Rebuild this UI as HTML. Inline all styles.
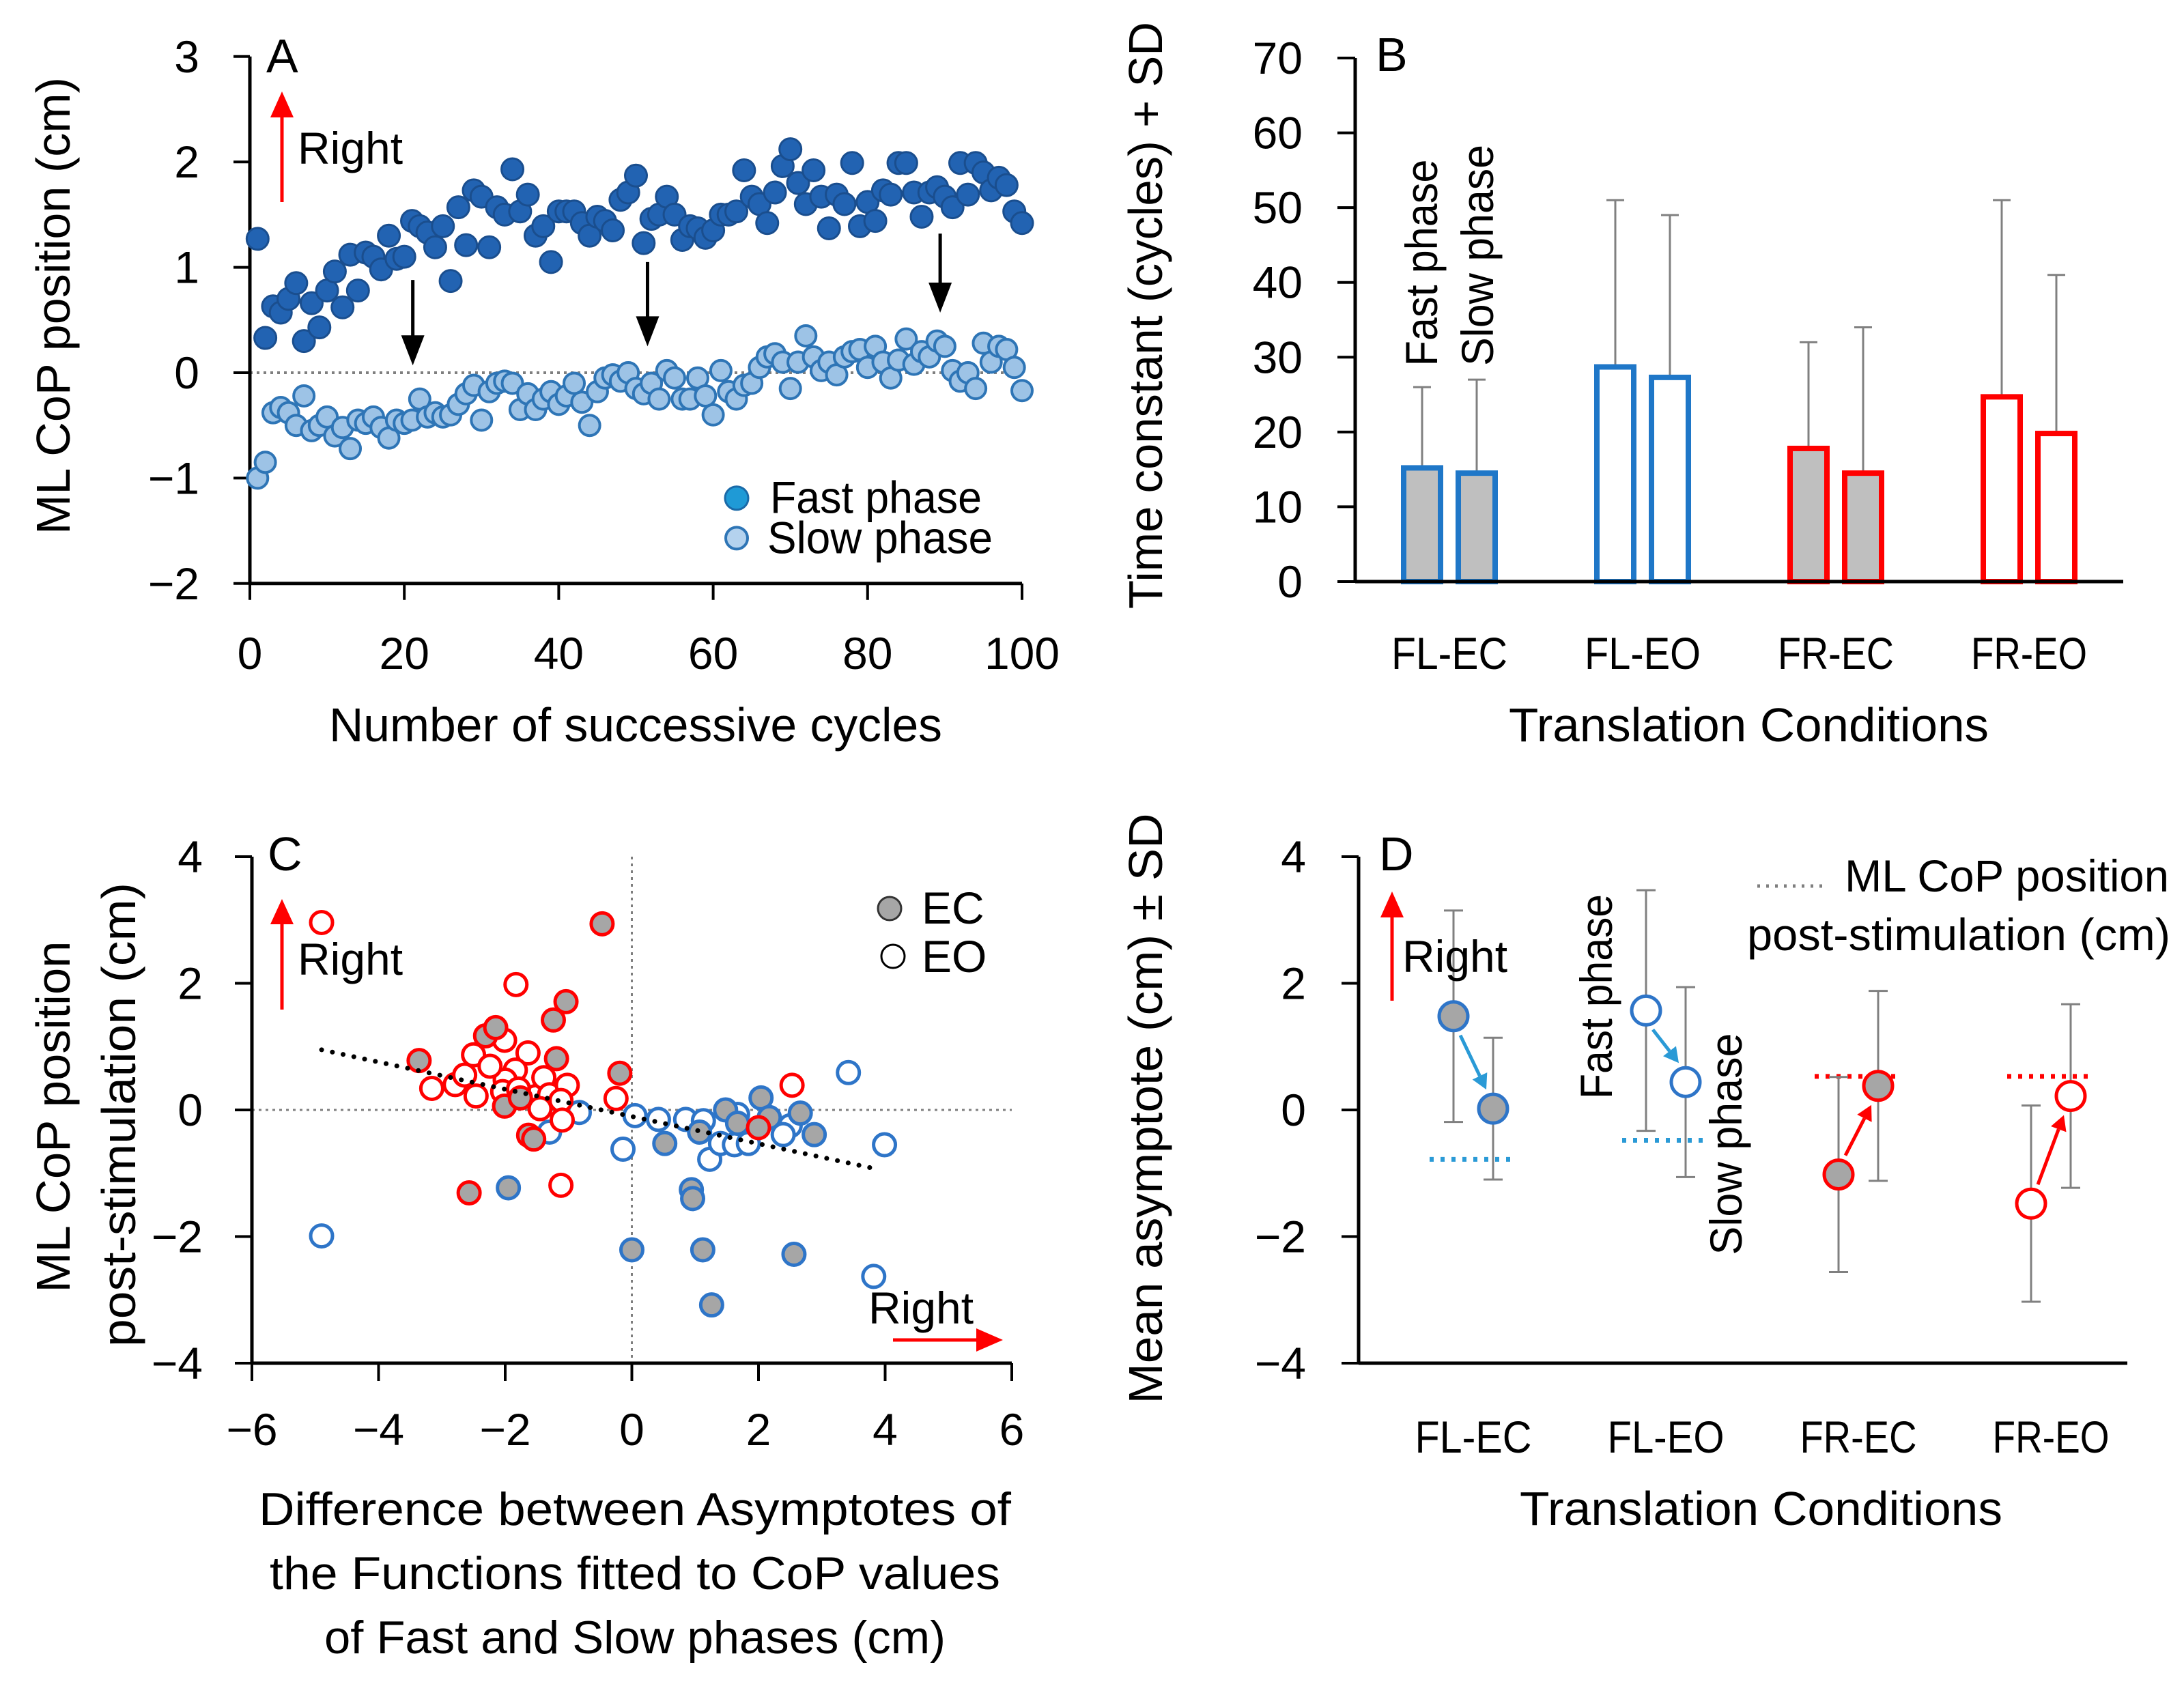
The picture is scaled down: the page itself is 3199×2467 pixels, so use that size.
<!DOCTYPE html>
<html><head><meta charset="utf-8">
<style>
html,body{margin:0;padding:0;background:#fff;}
svg{display:block;font-family:"Liberation Sans",sans-serif;}
text{fill:#000;}
</style></head>
<body>
<svg id="fig" xmlns="http://www.w3.org/2000/svg" width="3199" height="2467" viewBox="0 0 3199 2467">
<rect width="3199" height="2467" fill="#fff"/>
</svg>
<script>
// ---------- Panel A data ----------
const aFast = [1.27,0.33,0.63,0.57,0.7,0.85,0.3,0.66,0.43,0.78,0.96,0.62,1.12,0.78,1.14,1.1,0.98,1.3,1.08,1.1,1.44,1.39,1.33,1.19,1.39,0.87,1.57,1.21,1.73,1.67,1.19,1.57,1.5,1.93,1.53,1.69,1.3,1.39,1.05,1.53,1.53,1.53,1.42,1.3,1.48,1.44,1.35,1.64,1.71,1.87,1.23,1.46,1.5,1.67,1.5,1.26,1.39,1.37,1.28,1.35,1.5,1.5,1.53,1.92,1.67,1.6,1.42,1.71,1.96,2.12,1.8,1.6,1.92,1.67,1.37,1.69,1.6,1.99,1.39,1.62,1.44,1.73,1.69,1.99,1.99,1.71,1.48,1.71,1.76,1.67,1.57,1.99,1.69,1.99,1.9,1.73,1.85,1.78,1.53,1.42];
const aSlow = [-1.0,-0.85,-0.38,-0.33,-0.38,-0.5,-0.22,-0.55,-0.5,-0.42,-0.6,-0.52,-0.72,-0.45,-0.48,-0.42,-0.52,-0.62,-0.45,-0.48,-0.45,-0.25,-0.42,-0.38,-0.42,-0.4,-0.3,-0.2,-0.12,-0.45,-0.18,-0.1,-0.08,-0.1,-0.35,-0.2,-0.35,-0.25,-0.18,-0.3,-0.22,-0.1,-0.28,-0.5,-0.18,-0.05,-0.02,-0.08,0.0,-0.15,-0.2,-0.1,-0.25,0.02,-0.05,-0.25,-0.25,-0.05,-0.22,-0.4,0.02,-0.18,-0.25,-0.12,-0.1,0.05,0.15,0.18,0.1,-0.15,0.1,0.35,0.15,0.02,0.1,-0.02,0.15,0.2,0.22,0.05,0.25,0.1,-0.05,0.12,0.32,0.08,0.2,0.15,0.3,0.25,0.02,-0.08,0.0,-0.15,0.28,0.1,0.25,0.22,0.05,-0.17];
const aXTicks = [0,20,40,60,80,100];
const aYTicks = [3,2,1,0,-1,-2];
// ---------- Panel B data ----------
const bCategories = ["FL-EC","FL-EO","FR-EC","FR-EO"];
const bFastMean = [15.2,28.7,17.8,24.7];
const bSlowMean = [14.5,27.3,14.5,19.8];
const bFastTop = [26,51,32,51];
const bSlowTop = [27,49,34,41];
const bYTicks = [0,10,20,30,40,50,60,70];
// ---------- Panel C data ----------
const cRedEOx = [-4.9,-1.83,-3.16,-2.79,-2.64,-2.5,-2.46,-2.01,-1.64,-1.84,-2.0,-2.04,-1.52,-1.39,-1.3,-1.02,-1.12,-1.1,-1.45,-1.12,-0.25,2.53,-2.24,-1.79];
const cRedEOy = [2.96,1.98,0.34,0.4,0.55,0.87,0.22,1.1,0.9,0.63,0.47,0.29,0.21,0.51,0.24,0.39,0.15,-0.16,0.02,-1.19,0.18,0.39,0.69,0.33];
const cRedECx = [-3.36,-2.31,-2.15,-1.24,-1.04,-1.19,-0.47,-0.19,-1.63,-1.55,-2.57,-2.01,2.0,-1.76];
const cRedECy = [0.78,1.17,1.3,1.42,1.71,0.81,2.94,0.58,-0.4,-0.46,-1.31,0.06,-0.28,0.19];
const cBlueECx = [-1.95,0,1.12,1.26,2.56,0.94,0.96,0.52,1.07,1.48,2.04,2.17,2.66,2.88,1.67];
const cBlueECy = [-1.23,-2.21,-2.21,-3.08,-2.28,-1.26,-1.4,-0.53,-0.35,0,0.19,-0.12,-0.05,-0.39,-0.21];
const cBlueEOx = [-4.9,3.42,3.99,3.82,-0.14,0.05,0.42,0.85,1.13,1.23,1.4,1.62,1.84,2.5,2.39,-1.3,-0.83,1.67];
const cBlueEOy = [-1.99,0.59,-0.55,-2.63,-0.62,-0.09,-0.15,-0.15,-0.17,-0.78,-0.53,-0.55,-0.53,-0.25,-0.39,-0.35,-0.04,-0.07];
const cTrendX = [-4.9,3.8];
const cTrendY = [0.95,-0.92];
const cXTicks = [-6,-4,-2,0,2,4,6];
const cYTicks = [4,2,0,-2,-4];
// ---------- Panel D data ----------
const dCategories = ["FL-EC","FL-EO","FR-EC","FR-EO"];
const dFastMean = [1.48,1.57,-1.02,-1.48];
const dFastSD = [1.67,1.9,1.54,1.55];
const dSlowMean = [0.02,0.44,0.38,0.22];
const dSlowSD = [1.12,1.5,1.5,1.45];
const dPost = [-0.78,-0.48,0.53,0.53];
const dYTicks = [4,2,0,-2,-4];

const NS="http://www.w3.org/2000/svg";
const svg=document.getElementById('fig');
function mk(tag, attrs, parent){
  const e=document.createElementNS(NS,tag);
  for(const k in attrs) e.setAttribute(k,attrs[k]);
  (parent||svg).appendChild(e);
  return e;
}
function txt(str, attrs, parent){
  const e=mk('text',attrs,parent); e.textContent=str; return e;
}
function grp(name){
  const g=mk('g',{});
  
  
  return g;
}
const FS=66;

// ================= PANEL A =================
const ax=v=>366+v*11.31;
const ay=v=>546-v*154.4;
const gA=grp('panel-a');
let e;
e=mk('line',{x1:ax(0),y1:ay(0),x2:ax(100),y2:ay(0),stroke:'#7f7f7f','stroke-width':4,'stroke-dasharray':'4 6'},gA);


e=mk('line',{x1:ax(0),y1:ay(3),x2:ax(0),y2:ay(-2),stroke:'#000','stroke-width':5},gA);


e=mk('line',{x1:ax(0),y1:ay(-2),x2:ax(100),y2:ay(-2),stroke:'#000','stroke-width':5},gA);


aYTicks.forEach(t=>{
  mk('line',{x1:ax(0)-24,y1:ay(t),x2:ax(0),y2:ay(t),stroke:'#000','stroke-width':4},gA);
  e=txt(String(t).replace('-','\u2212'),{x:292,y:ay(t)+23,'font-size':FS,'text-anchor':'end'},gA);
  
  
});
aXTicks.forEach(t=>{
  mk('line',{x1:ax(t),y1:ay(-2),x2:ax(t),y2:ay(-2)+24,stroke:'#000','stroke-width':4},gA);
  e=txt(String(t),{x:ax(t),y:980,'font-size':FS,'text-anchor':'middle'},gA);
  
  
});
aSlow.forEach((v,i)=>{
  e=mk('circle',{cx:ax(i+1),cy:ay(v),r:15,fill:'#9dc3e6',stroke:'#2e75b6','stroke-width':4},gA);
  
  
});
aFast.forEach((v,i)=>{
  e=mk('circle',{cx:ax(i+1),cy:ay(v),r:16,fill:'#2263b2',stroke:'#1a4e8e','stroke-width':3},gA);
  
  
});
// black arrows
[[21.1,0.88,0.07],[51.5,1.05,0.25],[89.4,1.32,0.57]].forEach(a=>{
  const x=ax(a[0]),y1=ay(a[1]),y2=ay(a[2]);
  e=mk('path',{d:`M${x} ${y1} L${x} ${y2-40}`,stroke:'#000','stroke-width':5},gA);
  
  
  mk('path',{d:`M${x-17} ${y2-44} L${x+17} ${y2-44} L${x} ${y2} Z`,fill:'#000'},gA);
});
mk('path',{d:`M413 296 L413 170`,stroke:'#f00','stroke-width':5},gA);
e=mk('path',{d:`M396 172 L430 172 L413 134 Z`,fill:'#f00'},gA);


e=txt('Right',{x:436,y:240,'font-size':FS},gA);


e=txt('A',{x:390,y:106,'font-size':70},gA);


e=mk('circle',{cx:1079,cy:ay(-1.19),r:17,fill:'#1f9ad6',stroke:'#1a6aa8','stroke-width':3},gA);


e=txt('Fast phase',{x:1128,y:ay(-1.19)+22,'font-size':FS,textLength:310,lengthAdjust:'spacingAndGlyphs'},gA);


e=mk('circle',{cx:1079,cy:ay(-1.57),r:16,fill:'#b4d2ee',stroke:'#2e75b6','stroke-width':4},gA);


e=txt('Slow phase',{x:1124,y:ay(-1.57)+22,'font-size':FS,textLength:330,lengthAdjust:'spacingAndGlyphs'},gA);


e=txt('Number of successive cycles',{x:482,y:1086,'font-size':70,textLength:898,lengthAdjust:'spacingAndGlyphs'},gA);


e=txt('ML CoP position (cm)',{x:0,y:0,'font-size':70,'text-anchor':'middle',textLength:670,lengthAdjust:'spacingAndGlyphs',transform:'translate(102,448) rotate(-90)'},gA);



// ================= PANEL B =================
const by=v=>852-v*10.957;
const bcx=i=>2123+i*283;
const gB=grp('panel-b');
e=mk('line',{x1:1985,y1:by(70),x2:1985,y2:by(0),stroke:'#000','stroke-width':5},gB);


bYTicks.forEach(t=>{
  mk('line',{x1:1959,y1:by(t),x2:1985,y2:by(t),stroke:'#000','stroke-width':4},gB);
  e=txt(String(t),{x:1908,y:by(t)+23,'font-size':FS,'text-anchor':'end'},gB);
  
  
});
bCategories.forEach((c,i)=>{
  const col=i<2?'#1f77c8':'#ff0000';
  const fill=(i%2===0)?'#bfbfbf':'#ffffff';
  [[bFastMean[i],bFastTop[i],-40,'fast'],[bSlowMean[i],bSlowTop[i],40,'slow']].forEach(s=>{
    const x=bcx(i)+s[2];
    e=mk('line',{x1:x,y1:by(s[0]),x2:x,y2:by(s[1]),stroke:'#808080','stroke-width':3},gB);
    
    
    mk('line',{x1:x-13,y1:by(s[1]),x2:x+13,y2:by(s[1]),stroke:'#808080','stroke-width':3},gB);
    e=mk('rect',{x:x-27,y:by(s[0]),width:54,height:by(0)-by(s[0]),fill:fill,stroke:col,'stroke-width':8},gB);
    
    
  });
  e=txt(c,{x:bcx(i),y:980,'font-size':FS,'text-anchor':'middle',textLength:170,lengthAdjust:'spacingAndGlyphs'},gB);
  
  
});
e=mk('line',{x1:1985,y1:by(0),x2:3110,y2:by(0),stroke:'#000','stroke-width':5},gB);


e=txt('Fast phase',{x:0,y:0,'font-size':FS,'text-anchor':'middle',textLength:303,lengthAdjust:'spacingAndGlyphs',transform:'translate(2105,385) rotate(-90)'},gB);


e=txt('Slow phase',{x:0,y:0,'font-size':FS,'text-anchor':'middle',textLength:324,lengthAdjust:'spacingAndGlyphs',transform:'translate(2187,374) rotate(-90)'},gB);


e=txt('B',{x:2015,y:104,'font-size':70},gB);


e=txt('Translation Conditions',{x:2210,y:1086,'font-size':70,textLength:703,lengthAdjust:'spacingAndGlyphs'},gB);


e=txt('Time constant (cycles) + SD',{x:0,y:0,'font-size':70,'text-anchor':'middle',textLength:860,lengthAdjust:'spacingAndGlyphs',transform:'translate(1702,462) rotate(-90)'},gB);



// ================= PANEL C =================
const cx=v=>925.5+v*92.75;
const cy=v=>1626-v*92.75;
const gC=grp('panel-c');
e=mk('line',{x1:cx(-6),y1:cy(0),x2:cx(6),y2:cy(0),stroke:'#7f7f7f','stroke-width':3,'stroke-dasharray':'4 6'},gC);


e=mk('line',{x1:cx(0),y1:cy(4),x2:cx(0),y2:cy(-4),stroke:'#7f7f7f','stroke-width':3,'stroke-dasharray':'4 6'},gC);


e=mk('line',{x1:cx(-6),y1:cy(4),x2:cx(-6),y2:cy(-4),stroke:'#000','stroke-width':5},gC);


e=mk('line',{x1:cx(-6),y1:cy(-4),x2:cx(6),y2:cy(-4),stroke:'#000','stroke-width':5},gC);


cYTicks.forEach(t=>{
  mk('line',{x1:cx(-6)-25,y1:cy(t),x2:cx(-6),y2:cy(t),stroke:'#000','stroke-width':4},gC);
  e=txt(String(t).replace('-','\u2212'),{x:297,y:cy(t)+23,'font-size':FS,'text-anchor':'end'},gC);
  
  
});
cXTicks.forEach(t=>{
  mk('line',{x1:cx(t),y1:cy(-4),x2:cx(t),y2:cy(-4)+26,stroke:'#000','stroke-width':4},gC);
  e=txt(String(t).replace('-','\u2212'),{x:cx(t),y:2117,'font-size':FS,'text-anchor':'middle'},gC);
  
  
});
function cpts(xs,ys,fill,stroke,name){
  xs.forEach((v,i)=>{
    const c=mk('circle',{cx:cx(v),cy:cy(ys[i]),r:16,fill:fill,stroke:stroke,'stroke-width':5},gC);
    
    
  });
}
cpts(cBlueEOx,cBlueEOy,'#fff','#2e75c8','fl-eo-point');
cpts(cBlueECx,cBlueECy,'#a6a6a6','#2e75c8','fl-ec-point');
cpts(cRedEOx,cRedEOy,'#fff','#ff0000','fr-eo-point');
cpts(cRedECx,cRedECy,'#a6a6a6','#ff0000','fr-ec-point');
e=mk('line',{x1:cx(cTrendX[0]),y1:cy(cTrendY[0]),x2:cx(cTrendX[1]),y2:cy(cTrendY[1]),stroke:'#000','stroke-width':7,'stroke-dasharray':'0.1 16','stroke-linecap':'round'},gC);


mk('path',{d:'M413 1479 L413 1352',stroke:'#f00','stroke-width':5},gC);
e=mk('path',{d:'M396 1354 L430 1354 L413 1317 Z',fill:'#f00'},gC);


e=txt('Right',{x:436,y:1428,'font-size':FS},gC);


mk('path',{d:'M1308 1963 L1432 1963',stroke:'#f00','stroke-width':5},gC);
e=mk('path',{d:'M1430 1946 L1430 1980 L1469 1963 Z',fill:'#f00'},gC);


e=txt('Right',{x:1272,y:1939,'font-size':FS},gC);


e=txt('C',{x:392,y:1275,'font-size':70},gC);


e=mk('circle',{cx:1303,cy:1331,r:17,fill:'#a6a6a6',stroke:'#333','stroke-width':3},gC);


e=txt('EC',{x:1350,y:1353,'font-size':FS},gC);


e=mk('circle',{cx:1308,cy:1401,r:17,fill:'#fff',stroke:'#000','stroke-width':3},gC);


e=txt('EO',{x:1350,y:1424,'font-size':FS},gC);


[['Difference between Asymptotes of',2234,1102],['the Functions fitted to CoP values',2328,1070],['of Fast and Slow phases (cm)',2422,910]].forEach(l=>{
  e=txt(l[0],{x:930,y:l[1],'font-size':68,'text-anchor':'middle',textLength:l[2],lengthAdjust:'spacingAndGlyphs'},gC);
  
  
});
e=txt('ML CoP position',{x:0,y:0,'font-size':70,'text-anchor':'middle',textLength:515,lengthAdjust:'spacingAndGlyphs',transform:'translate(102,1636) rotate(-90)'},gC);


e=txt('post-stimulation (cm)',{x:0,y:0,'font-size':70,'text-anchor':'middle',textLength:680,lengthAdjust:'spacingAndGlyphs',transform:'translate(198,1633) rotate(-90)'},gC);



// ================= PANEL D =================
const dy=v=>1626-v*92.75;
const dcx=i=>2158+i*282;
const gD=grp('panel-d');
e=mk('line',{x1:1990,y1:dy(4),x2:1990,y2:dy(-4),stroke:'#000','stroke-width':5},gD);


e=mk('line',{x1:1990,y1:dy(-4),x2:3116,y2:dy(-4),stroke:'#000','stroke-width':5},gD);


dYTicks.forEach(t=>{
  mk('line',{x1:1965,y1:dy(t),x2:1990,y2:dy(t),stroke:'#000','stroke-width':4},gD);
  e=txt(String(t).replace('-','\u2212'),{x:1913,y:dy(t)+23,'font-size':FS,'text-anchor':'end'},gD);
  
  
});
dCategories.forEach((c,i)=>{
  const col=i<2?'#2e75c8':'#ff0000';
  const acol=i<2?'#2a9ad6':'#ff0000';
  const fill=(i%2===0)?'#a6a6a6':'#ffffff';
  const xf=dcx(i)-29, xs=dcx(i)+29;
  e=mk('line',{x1:dcx(i)-64,y1:dy(dPost[i]),x2:dcx(i)+58,y2:dy(dPost[i]),stroke:acol,'stroke-width':7,'stroke-dasharray':'6 10'},gD);
  
  
  [[xf,dFastMean[i],dFastSD[i],'fast'],[xs,dSlowMean[i],dSlowSD[i],'slow']].forEach(s=>{
    e=mk('line',{x1:s[0],y1:dy(s[1]+s[2]),x2:s[0],y2:dy(s[1]-s[2]),stroke:'#808080','stroke-width':3},gD);
    
    
    mk('line',{x1:s[0]-14,y1:dy(s[1]+s[2]),x2:s[0]+14,y2:dy(s[1]+s[2]),stroke:'#808080','stroke-width':3},gD);
    mk('line',{x1:s[0]-14,y1:dy(s[1]-s[2]),x2:s[0]+14,y2:dy(s[1]-s[2]),stroke:'#808080','stroke-width':3},gD);
  });
  // arrow from fast to slow
  const x1=xf+10, y1=dy(dFastMean[i])+(dSlowMean[i]<dFastMean[i]?28:-28);
  const x2=xs-10, y2=dy(dSlowMean[i])+(dSlowMean[i]<dFastMean[i]?-28:28);
  const ang=Math.atan2(y2-y1,x2-x1), hl=22, hw=12;
  const bx=x2-hl*Math.cos(ang), byy=y2-hl*Math.sin(ang);
  mk('line',{x1:x1,y1:y1,x2:bx,y2:byy,stroke:acol,'stroke-width':5},gD);
  e=mk('path',{d:`M${x2} ${y2} L${bx-hw*Math.sin(ang)} ${byy+hw*Math.cos(ang)} L${bx+hw*Math.sin(ang)} ${byy-hw*Math.cos(ang)} Z`,fill:acol},gD);
  
  
  [[xf,dFastMean[i],'fast'],[xs,dSlowMean[i],'slow']].forEach(s=>{
    e=mk('circle',{cx:s[0],cy:dy(s[1]),r:21,fill:fill,stroke:col,'stroke-width':5},gD);
    
    
  });
  e=txt(c,{x:dcx(i),y:2128,'font-size':FS,'text-anchor':'middle',textLength:171,lengthAdjust:'spacingAndGlyphs'},gD);
  
  
});
mk('path',{d:'M2039 1466 L2039 1342',stroke:'#f00','stroke-width':5},gD);
e=mk('path',{d:'M2022 1344 L2056 1344 L2039 1306 Z',fill:'#f00'},gD);


e=txt('Right',{x:2054,y:1424,'font-size':FS},gD);


e=txt('D',{x:2020,y:1275,'font-size':70},gD);


e=mk('line',{x1:2574,y1:1298,x2:2672,y2:1298,stroke:'#7f7f7f','stroke-width':5,'stroke-dasharray':'4 9'},gD);


e=txt('ML CoP position',{x:2702,y:1306,'font-size':FS,textLength:475,lengthAdjust:'spacingAndGlyphs'},gD);


e=txt('post-stimulation (cm)',{x:2559,y:1392,'font-size':FS,textLength:620,lengthAdjust:'spacingAndGlyphs'},gD);


e=txt('Fast phase',{x:0,y:0,'font-size':FS,'text-anchor':'middle',textLength:300,lengthAdjust:'spacingAndGlyphs',transform:'translate(2361,1460) rotate(-90)'},gD);


e=txt('Slow phase',{x:0,y:0,'font-size':FS,'text-anchor':'middle',textLength:325,lengthAdjust:'spacingAndGlyphs',transform:'translate(2551,1676) rotate(-90)'},gD);


e=txt('Translation Conditions',{x:2226,y:2234,'font-size':70,textLength:707,lengthAdjust:'spacingAndGlyphs'},gD);


e=txt('Mean asymptote  (cm) \u00b1 SD',{x:0,y:0,'font-size':70,'text-anchor':'middle',textLength:865,lengthAdjust:'spacingAndGlyphs',transform:'translate(1702,1624) rotate(-90)'},gD);


</script>
</body></html>
